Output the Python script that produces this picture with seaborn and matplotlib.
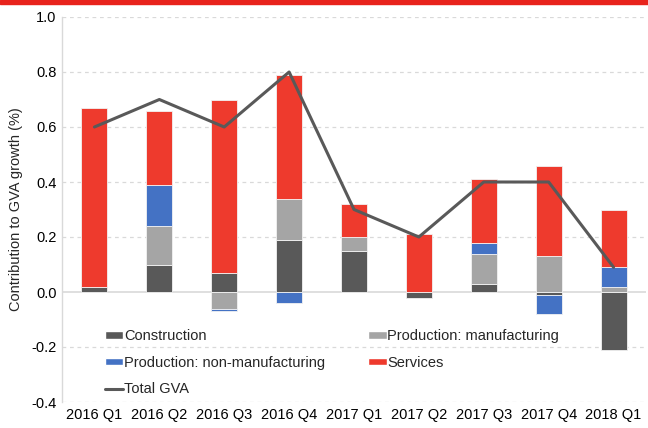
import numpy as np
import pandas as pd
import matplotlib
matplotlib.use("Agg")
import matplotlib.pyplot as plt
from matplotlib.patches import Rectangle, Patch
from matplotlib.lines import Line2D
import seaborn as sns

quarters = ["2016 Q1", "2016 Q2", "2016 Q3", "2016 Q4", "2017 Q1",
            "2017 Q2", "2017 Q3", "2017 Q4", "2018 Q1"]
construction = [0.02, 0.10, 0.07, 0.19, 0.15, -0.02, 0.03, -0.01, -0.21]
manufacturing = [0.00, 0.14, -0.06, 0.15, 0.05, 0.00, 0.11, 0.13, 0.02]
non_manufacturing = [0.00, 0.15, -0.01, -0.04, 0.00, 0.00, 0.04, -0.07, 0.07]
services = [0.65, 0.27, 0.63, 0.45, 0.12, 0.21, 0.23, 0.33, 0.21]
total_gva = [0.6, 0.7, 0.6, 0.8, 0.3, 0.2, 0.4, 0.4, 0.09]

series = [
    ("Construction", construction, "#595959"),
    ("Production: manufacturing", manufacturing, "#A5A5A5"),
    ("Production: non-manufacturing", non_manufacturing, "#4472C4"),
    ("Services", services, "#EE3A2D"),
]

sns.set_theme(style="white")
plt.rcParams["font.family"] = ["Liberation Sans", "DejaVu Sans"]

fig = plt.figure(figsize=(6.48, 4.28), dpi=100)
ax = fig.add_axes([62 / 648, 1 - 402 / 428, 584 / 648, 385 / 428])

pos_bottom = np.zeros(len(quarters))
neg_bottom = np.zeros(len(quarters))
for name, vals, col in series:
    v = np.array(vals, dtype=float)
    bottom = np.where(v >= 0, pos_bottom, neg_bottom)
    df = pd.DataFrame({"q": quarters, "v": v})
    sns.barplot(data=df, x="q", y="v", bottom=bottom, color=col, width=0.4,
                saturation=1, ax=ax, edgecolor="#F2F2F2", linewidth=0.6,
                zorder=3)
    pos_bottom = pos_bottom + np.where(v >= 0, v, 0)
    neg_bottom = neg_bottom + np.where(v < 0, v, 0)

sns.lineplot(x=np.arange(len(quarters)), y=total_gva, color="#595959",
             linewidth=2.2, ax=ax, zorder=4)

ax.set_xlim(-0.5, len(quarters) - 0.5)
ax.set_ylim(-0.4, 1.0)
ax.set_yticks(np.arange(-0.4, 1.01, 0.2))
ax.set_yticklabels([f"{t:.1f}" for t in np.arange(-0.4, 1.01, 0.2)])
ax.set_xticks(range(len(quarters)))
ax.set_xticklabels(quarters)
ax.tick_params(axis="both", labelsize=10.5, colors="#000000", length=0, pad=4)
ax.set_xlabel("")
ax.set_ylabel("Contribution to GVA growth (%)", fontsize=10.5, labelpad=6)

for y in np.arange(-0.4, 1.01, 0.2):
    if abs(y) < 1e-9:
        ax.axhline(0, color="#D9D9D9", linewidth=1.2, zorder=2)
    else:
        ax.axhline(y, color="#D9D9D9", linewidth=0.9, linestyle=(0, (3, 3)), zorder=1)

for s in ["top", "right", "bottom"]:
    ax.spines[s].set_visible(False)
ax.spines["left"].set_color("#D9D9D9")
ax.spines["left"].set_linewidth(1.0)

handles = [
    Patch(facecolor="#595959", label="Construction"),
    Patch(facecolor="#4472C4", label="Production: non-manufacturing"),
    Line2D([0], [0], color="#595959", linewidth=2.2, label="Total GVA"),
    Patch(facecolor="#A5A5A5", label="Production: manufacturing"),
    Patch(facecolor="#EE3A2D", label="Services"),
]
ax.legend(handles=handles, ncol=2, loc="lower left",
          bbox_to_anchor=(0.064, 0.0), frameon=False, fontsize=10.5,
          handlelength=1.25, handleheight=0.45, handletextpad=0.05,
          columnspacing=2.95, labelspacing=0.85, borderaxespad=0)

fig.add_artist(Rectangle((0, 1 - 4 / 428), 1, 4 / 428, transform=fig.transFigure,
                         color="#E8231C", zorder=10))

fig.savefig("out.png", dpi=100)
